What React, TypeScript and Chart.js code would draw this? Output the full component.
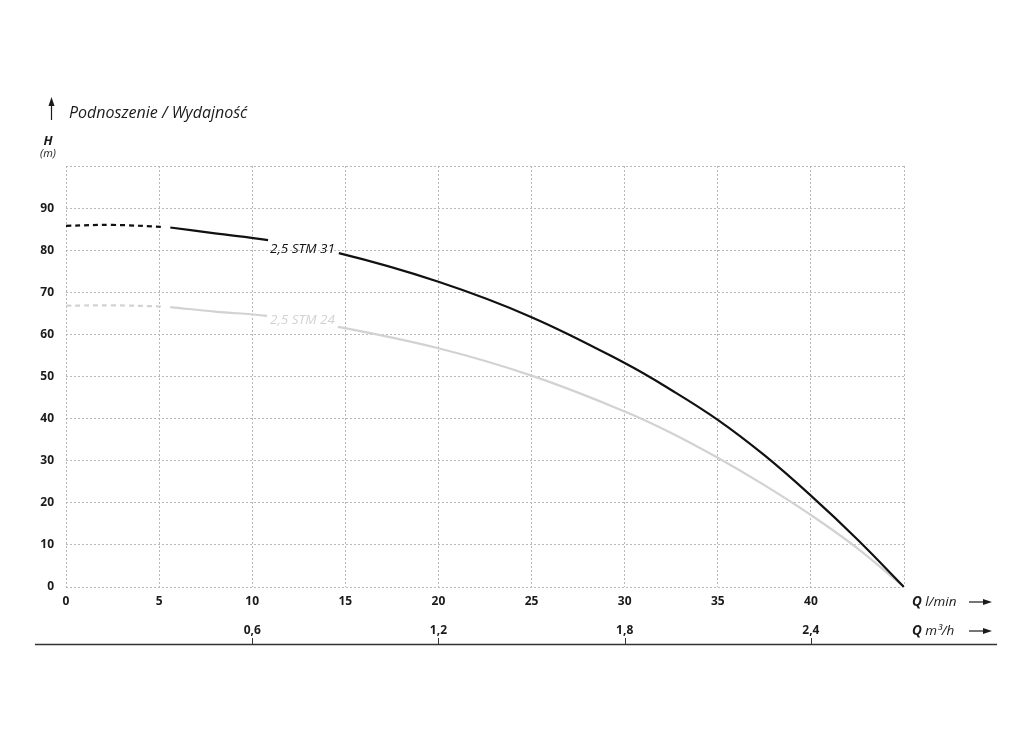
import { useEffect, useRef } from "react";
import { Chart, registerables, type Plugin } from "chart.js";

Chart.register(...registerables);

const FONT = '"Open Sans", "Noto Sans", sans-serif';

// Q in l/min, H in m
const Q_STM31 = [0, 2.5, 5.3, 5.6, 8, 10.85, 14.65, 20, 25, 30, 32.5, 35, 37.5, 40, 42.5, 45];
const H_STM31 = [85.8, 86.0, 85.5, 85.4, 84.0, 82.4, 79.3, 72.5, 64.1, 53.2, 46.8, 39.7, 31.3, 21.7, 11.3, 0];
const Q_STM24 = [0, 2.5, 5.3, 5.6, 8, 10.8, 14.6, 20, 25, 30, 32.5, 35, 37.5, 40, 42.5, 45];
const H_STM24 = [66.8, 66.9, 66.6, 66.5, 65.4, 64.4, 61.8, 56.7, 50.2, 41.7, 36.6, 30.7, 24.2, 17.1, 9.2, 0];

const SERIES_NAMES = ["2,5 STM 31", "2,5 STM 24"];
const SERIES_COLORS = ["#111111", "#d2d2d2"];

// second Q scale in m3/h
const Q_M3H_TICKS = [0.6, 1.2, 1.8, 2.4];

// where the curves are dashed / broken for the name
const DASH_END = 5.3;
const SOLID_START = 5.6;
const GAP_FROM = 10.8;
const GAP_TO = 14.7;

const fmt = (v: number) => v.toFixed(1).replace(".", ",");

const pts = (qs: number[], hs: number[]) => qs.map((q, i) => ({ x: q, y: hs[i] }));

const segment = {
  borderDash: (c: any) => (c.p1.parsed.x <= DASH_END + 0.01 ? [5, 4] : undefined),
  borderColor: (c: any) => {
    const a = c.p0.parsed.x;
    const b = c.p1.parsed.x;
    if (a >= DASH_END - 0.01 && b <= SOLID_START + 0.01) return "rgba(0,0,0,0)";
    if (a >= GAP_FROM - 0.01 && b <= GAP_TO + 0.01) return "rgba(0,0,0,0)";
    return undefined;
  },
};

const arrowRight = (ctx: CanvasRenderingContext2D, x1: number, x2: number, y: number) => {
  ctx.beginPath();
  ctx.moveTo(x1, y);
  ctx.lineTo(x2 - 6, y);
  ctx.stroke();
  ctx.beginPath();
  ctx.moveTo(x2, y);
  ctx.lineTo(x2 - 9, y - 3);
  ctx.lineTo(x2 - 9, y + 3);
  ctx.closePath();
  ctx.fill();
};

const decorations: Plugin = {
  id: "decorations",
  afterDraw(chart) {
    const ctx = chart.ctx;
    const { x, y, x2 } = chart.scales;
    ctx.save();
    ctx.fillStyle = "#1a1a1a";
    ctx.strokeStyle = "#1a1a1a";

    // vertical axis caption
    ctx.lineWidth = 1.2;
    ctx.beginPath();
    ctx.moveTo(51.5, 120);
    ctx.lineTo(51.5, 104);
    ctx.stroke();
    ctx.beginPath();
    ctx.moveTo(51.5, 97);
    ctx.lineTo(48.5, 106);
    ctx.lineTo(54.5, 106);
    ctx.closePath();
    ctx.fill();
    ctx.textBaseline = "middle";
    ctx.textAlign = "left";
    ctx.font = `italic 16px ${FONT}`;
    ctx.fillText("Podnoszenie / Wydajność", 69, 113);
    ctx.textAlign = "center";
    ctx.font = `italic bold 13px ${FONT}`;
    ctx.fillText("H", 48, 141);
    ctx.font = `italic 11px ${FONT}`;
    ctx.fillText("(m)", 48, 154);

    // curve names in the gaps
    const nameAt = [
      [12.7, 80.2],
      [12.7, 63.3],
    ];
    ctx.font = `italic 13.5px ${FONT}`;
    SERIES_NAMES.forEach((n, i) => {
      ctx.fillStyle = SERIES_COLORS[i];
      ctx.fillText(n, x.getPixelForValue(nameAt[i][0]), y.getPixelForValue(nameAt[i][1]));
    });

    // Q captions on the right
    ctx.fillStyle = "#1a1a1a";
    ctx.textAlign = "left";
    const qCaption = (unit: string, cy: number) => {
      ctx.font = `italic bold 13.5px ${FONT}`;
      ctx.fillText("Q", 912, cy);
      const w = ctx.measureText("Q ").width;
      ctx.font = `italic 13.5px ${FONT}`;
      ctx.fillText(unit, 912 + w, cy);
      ctx.lineWidth = 1.2;
      arrowRight(ctx, 969, 992, cy);
    };
    qCaption("l/min", 602);
    qCaption("m³/h", 631);

    // m3/h axis line and its ticks
    ctx.strokeStyle = "#333";
    ctx.lineWidth = 1.4;
    ctx.beginPath();
    ctx.moveTo(35, 644.5);
    ctx.lineTo(997, 644.5);
    ctx.stroke();
    ctx.lineWidth = 1;
    Q_M3H_TICKS.forEach((v) => {
      const px = Math.round(x2.getPixelForValue(v)) + 0.5;
      ctx.beginPath();
      ctx.moveTo(px, 638);
      ctx.lineTo(px, 644);
      ctx.stroke();
    });
    ctx.restore();
  },
};

export default function App() {
  const canvasRef = useRef<HTMLCanvasElement>(null);

  useEffect(() => {
    if (!canvasRef.current) return;
    const gridOpts = { color: "#b8b8b8", lineWidth: 1, drawTicks: false };
    const borderOpts = { display: false, dash: [2, 2] };
    const tickFont = { family: FONT, size: 12, weight: "bold" as const };
    const chart = new Chart(canvasRef.current, {
      type: "line",
      data: {
        datasets: [
          {
            label: SERIES_NAMES[0],
            data: pts(Q_STM31, H_STM31),
            borderColor: SERIES_COLORS[0],
            borderWidth: 2.2,
            pointRadius: 0,
            tension: 0.4,
            segment,
          },
          {
            label: SERIES_NAMES[1],
            data: pts(Q_STM24, H_STM24),
            borderColor: SERIES_COLORS[1],
            borderWidth: 2.2,
            pointRadius: 0,
            tension: 0.4,
            segment,
          },
        ],
      },
      options: {
        responsive: false,
        animation: false,
        layout: { padding: { top: 166, right: 120, left: 0, bottom: 0 } },
        plugins: { legend: { display: false }, tooltip: { enabled: false } },
        scales: {
          x: {
            type: "linear",
            position: "bottom",
            min: 0,
            max: 45,
            grid: gridOpts,
            border: borderOpts,
            ticks: {
              stepSize: 5,
              padding: 7,
              color: "#1a1a1a",
              font: tickFont,
              maxRotation: 0,
              callback: (v) => (Number(v) === 45 ? "" : String(v)),
            },
            afterFit: (s) => {
              s.height = 30;
            },
          },
          x2: {
            type: "linear",
            position: "bottom",
            min: 0,
            max: 2.7,
            grid: { display: false, drawTicks: false },
            border: { display: false },
            afterBuildTicks: (s) => {
              s.ticks = Q_M3H_TICKS.map((v) => ({ value: v }));
            },
            ticks: {
              padding: 6,
              color: "#1a1a1a",
              font: tickFont,
              maxRotation: 0,
              autoSkip: false,
              callback: (v) => fmt(Number(v)),
            },
            afterFit: (s) => {
              s.height = 115;
            },
          },
          y: {
            type: "linear",
            min: 0,
            max: 100,
            grid: gridOpts,
            border: borderOpts,
            ticks: {
              stepSize: 10,
              padding: 12,
              color: "#1a1a1a",
              font: tickFont,
              callback: (v) => (Number(v) === 100 ? "" : String(v)),
            },
            afterFit: (s) => {
              s.width = 66;
            },
          },
        },
      },
      plugins: [decorations],
    });
    return () => chart.destroy();
  }, []);

  return (
    <div style={{ position: "fixed", left: 0, top: 0, width: 1024, height: 732, background: "#fff" }}>
      <canvas ref={canvasRef} width={1024} height={732} style={{ display: "block" }} />
    </div>
  );
}
